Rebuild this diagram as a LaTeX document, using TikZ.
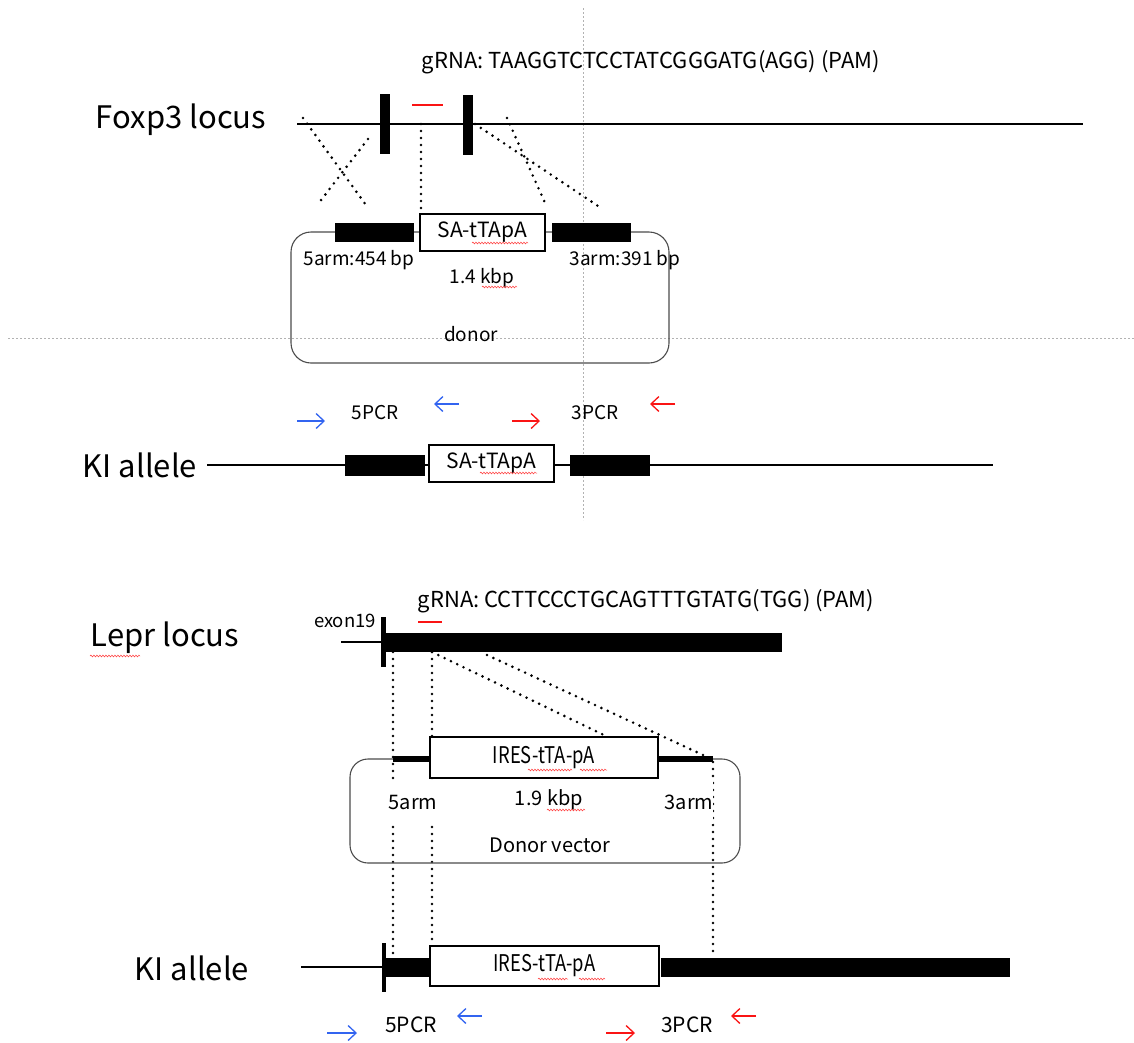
\documentclass[tikz,border=0pt]{standalone}
\usepackage{fontspec}
\setmainfont{Noto Sans CJK JP}
\usetikzlibrary{arrows.meta,decorations.pathmorphing}
\definecolor{pblue}{RGB}{50,100,240}
\definecolor{pred}{RGB}{250,20,20}
\begin{document}
\begin{tikzpicture}[x=1pt,y=-1pt,
  blk/.style={fill=black,draw=none,inner sep=0pt,outer sep=0pt},
  insbox/.style={draw=black,line width=1.4pt,fill=white,inner sep=0pt,outer sep=0pt,font=\fontsize{21}{21}\selectfont},
  dna/.style={line width=1.4pt},
  dotl/.style={line width=2.9pt,dash pattern=on 0pt off 7pt,line cap=round},
  vecbox/.style={draw=black!70,line width=1.1pt,rounded corners=20pt,inner sep=0pt},
  lab/.style={font=\fontsize{19}{19}\selectfont,inner sep=1pt},
  big/.style={font=\fontsize{31}{31}\selectfont,inner sep=0pt},
  grna/.style={font=\fontsize{22}{22}\selectfont,inner sep=0pt},
  cut/.style={draw=pred,line width=1.6pt},
  fwd/.style={line width=1.3pt,-{Straight Barb[length=8pt,width=15pt]}},
  squig/.style={draw=red!80,line width=0.5pt,decorate,decoration={snake,amplitude=0.9pt,segment length=3pt}},
  guide/.style={draw=black!30,line width=0.6pt,dash pattern=on 2pt off 2pt}]
\useasboundingbox (0,0) rectangle (1134,1042);
% guide lines
\draw[guide] (583,8) -- (583,520);
\draw[guide] (8,338) -- (1134,338);

%% ---------------- Foxp3 ----------------
\node[grna] (g1) at (651,62) {gRNA: TAAGGTCTCCTATCGGGATG(AGG) (PAM)};
\node[big] (foxlab) at (181,120) {Foxp3 locus};
\coordinate (fL) at (297,124);
\coordinate (fR) at (1083,124);
\draw[dna] (fL) -- (fR);
\node[blk,minimum width=10pt,minimum height=60pt] (ex1) at (385,124) {};
\node[blk,minimum width=10pt,minimum height=60pt] (ex2) at (467.5,125) {};
\coordinate (c1a) at (412,105);
\coordinate (c1b) at (443,105);
\draw[cut] (c1a) -- (c1b);

% crossover dotted lines
\coordinate (x1a) at (303,118);
\coordinate (x1b) at (366,205);
\coordinate (x2a) at (368,139);
\coordinate (x2b) at (318,204);
\draw[dotl] (x1a) -- (x1b);
\draw[dotl] (x2a) -- (x2b);
\coordinate (r1a) at (475,124);
\coordinate (r1b) at (601,208);
\coordinate (r2a) at (507,118);
\coordinate (r2b) at (546,205);
\draw[dotl] (r1a) -- (r1b);
\draw[dotl] (r2a) -- (r2b);

% donor
\node[vecbox,minimum width=378pt,minimum height=131pt] (donor1) at (480,297.5) {};
\node[blk,minimum width=79pt,minimum height=19pt] (la1) at (374.5,232.5) {};
\node[insbox,minimum width=125pt,minimum height=37pt] (sa1) at (482.5,232.5) {SA-tTApA};
\node[blk,minimum width=79pt,minimum height=19pt] (ra1) at (591.5,232.5) {};
\node[lab] (l5a) at (359,260) {5arm:454 bp};
\node[lab] (lk1) at (482,278) {1.4 kbp};
\node[lab] (l3a) at (625,260) {3arm:391 bp};
\node[lab] (dn1) at (471,334) {donor};
\coordinate (v1a) at (421,124);
\draw[dotl] (v1a) -- (sa1.north west -| v1a);

% PCR primers
\coordinate (p1a) at (297,421); \coordinate (p1b) at (325,421);
\coordinate (p2a) at (459,404); \coordinate (p2b) at (434,404);
\coordinate (p3a) at (512,421); \coordinate (p3b) at (540,421);
\coordinate (p4a) at (675,404); \coordinate (p4b) at (650,404);
\draw[fwd,pblue] (p1a) -- (p1b);
\draw[fwd,pblue] (p2a) -- (p2b);
\draw[fwd,pred] (p3a) -- (p3b);
\draw[fwd,pred] (p4a) -- (p4b);
\node[lab] (pcr5a) at (375,413) {5PCR};
\node[lab] (pcr3a) at (595,413) {3PCR};

% KI allele top
\node[big] (ki1) at (140,465) {KI allele};
\coordinate (kL) at (207,465);
\coordinate (kR) at (993,465);
\draw[dna] (kL) -- (kR);
\node[blk,minimum width=80pt,minimum height=21pt] (kla) at (385,465.5) {};
\node[insbox,minimum width=125pt,minimum height=37pt] (ksa) at (491.5,463.5) {SA-tTApA};
\node[blk,minimum width=80pt,minimum height=21pt] (kra) at (610,465.5) {};

%% ---------------- Lepr ----------------
\node[grna] (g2) at (646,601) {gRNA: CCTTCCCTGCAGTTTGTATG(TGG) (PAM)};
\node[big] (leplab) at (165,638) {Lepr locus};
\node[lab,font=\fontsize{18.5}{18.5}\selectfont,inner sep=0pt] (ex19) at (345,621) {exon19};
\coordinate (lL) at (341,642);
\node[blk,minimum width=5pt,minimum height=50pt] (bar1) at (383.5,642) {};
\draw[dna] (lL) -- (lL -| bar1.west);
\node[blk,minimum width=398pt,minimum height=19pt] (ex19b) at (583,642.5) {};
\coordinate (c2a) at (418,622);
\coordinate (c2b) at (442,622);
\draw[cut] (c2a) -- (c2b);

% dotted lines (drawn before labels that mask them)
\coordinate (d1a) at (393,652);
\coordinate (d1b) at (393,956);
\coordinate (d2a) at (432,652);
\coordinate (d2b) at (432,946);
\coordinate (d3a) at (713,762);
\coordinate (d3b) at (713,955);
\draw[dotl] (d1a) -- (d1b);
\draw[dotl] (d2a) -- (d2b);
\draw[dotl] (d3a) -- (d3b);
\coordinate (e1a) at (432,652);
\coordinate (e1b) at (608,737);
\coordinate (e2a) at (487,655);
\coordinate (e2b) at (703,755);
\draw[dotl] (e1a) -- (e1b);
\draw[dotl] (e2a) -- (e2b);

% donor vector
\node[vecbox,rounded corners=18pt,minimum width=390pt,minimum height=104pt] (donor2) at (545,811) {};
\node[blk,minimum width=37pt,minimum height=6pt] (la2) at (411.5,759) {};
\node[insbox,minimum width=228pt,minimum height=41pt] (ires1) at (544,757.5) {\fontsize{23}{23}\selectfont\scalebox{0.8}[1]{IRES-tTA-pA}};
\node[blk,minimum width=55pt,minimum height=6pt] (ra2) at (685.5,759) {};
\node[lab,fill=white,font=\fontsize{20}{20}\selectfont,minimum height=44pt,inner sep=0pt] (l5b) at (413,802) {5arm};
\node[lab,fill=white,font=\fontsize{20}{20}\selectfont,minimum height=30pt] (lk2) at (549,800) {1.9 kbp};
\node[lab,fill=white,font=\fontsize{20}{20}\selectfont,minimum height=44pt,inner sep=0pt] (l3b) at (689,802) {3arm};
\node[lab,font=\fontsize{20}{20}\selectfont] (dn2) at (550,845) {Donor vector};

% KI allele bottom
\node[big] (ki2) at (192,968) {KI allele};
\coordinate (kbL) at (301,967);
\node[blk,minimum width=4.5pt,minimum height=49pt] (bar2) at (384,967.5) {};
\draw[dna] (kbL) -- (kbL -| bar2.west);
\node[blk,minimum width=45pt,minimum height=19pt] (kbla) at (407.5,967.5) {};
\node[insbox,minimum width=229pt,minimum height=40pt] (ires2) at (544.5,966) {\fontsize{23}{23}\selectfont\scalebox{0.8}[1]{IRES-tTA-pA}};
\node[blk,minimum width=349pt,minimum height=19pt] (kbra) at (835.5,967.5) {};

% PCR primers bottom
\coordinate (q1a) at (327,1033); \coordinate (q1b) at (357,1033);
\coordinate (q2a) at (482,1016); \coordinate (q2b) at (457,1016);
\coordinate (q3a) at (606,1033); \coordinate (q3b) at (635,1033);
\coordinate (q4a) at (756,1016); \coordinate (q4b) at (731,1016);
\draw[fwd,pblue] (q1a) -- (q1b);
\draw[fwd,pblue] (q2a) -- (q2b);
\draw[fwd,pred] (q3a) -- (q3b);
\draw[fwd,pred] (q4a) -- (q4b);
\node[lab,font=\fontsize{21}{21}\selectfont] (pcr5b) at (411,1025) {5PCR};
\node[lab,font=\fontsize{21}{21}\selectfont] (pcr3b) at (687,1025) {3PCR};

% spell-check squiggles
\draw[squig] (472,243) -- (528,243);
\draw[squig] (482,287) -- (517,287);
\draw[squig] (480,473) -- (537,473);
\draw[squig] (90,656) -- (140,656);
\draw[squig] (528,770) -- (572,770);
\draw[squig] (580,770) -- (607,770);
\draw[squig] (547,810) -- (585,810);
\draw[squig] (538,979) -- (568,979);
\draw[squig] (579,979) -- (605,979);
\end{tikzpicture}
\end{document}
